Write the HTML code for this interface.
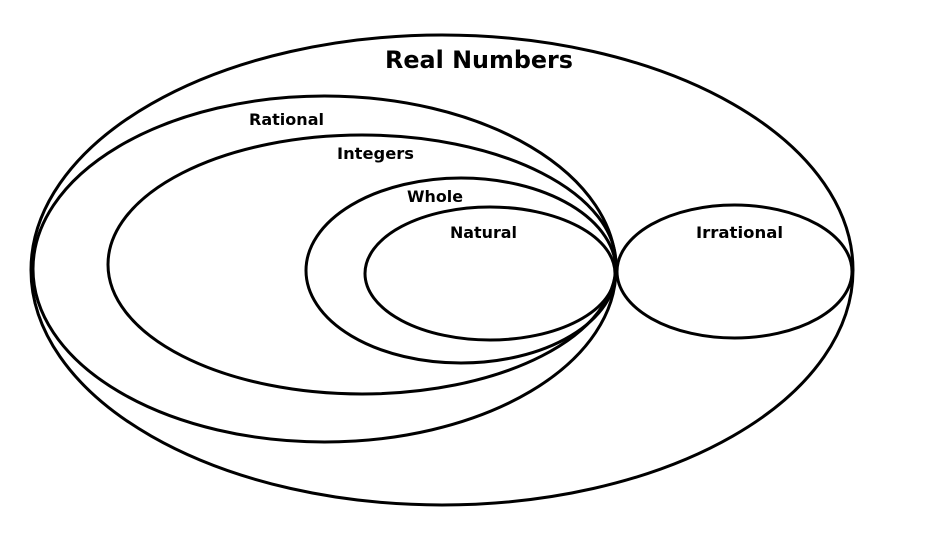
<!DOCTYPE html>
<html><head><meta charset="utf-8"><style>
html,body{margin:0;padding:0;background:#fff;}
svg{display:block;}
text{font-family:"DejaVu Sans","Liberation Sans",sans-serif;font-weight:bold;fill:#000;}
</style></head><body>
<svg width="933" height="560" viewBox="0 0 933 560" xmlns="http://www.w3.org/2000/svg">
<g fill="none" stroke="#000" stroke-width="3">
<ellipse cx="442" cy="270" rx="411" ry="235"/>
<ellipse cx="324.5" cy="269" rx="291.5" ry="173"/>
<ellipse cx="362" cy="264.5" rx="254" ry="129.5"/>
<ellipse cx="461" cy="270.5" rx="155" ry="92.5"/>
<ellipse cx="490" cy="273.5" rx="125" ry="66.5"/>
<ellipse cx="734.5" cy="271.5" rx="117.5" ry="66.5"/>
</g>
<text x="385" y="68" font-size="24" textLength="188" lengthAdjust="spacingAndGlyphs">Real Numbers</text>
<text x="249" y="125" font-size="16" textLength="75" lengthAdjust="spacingAndGlyphs">Rational</text>
<text x="337" y="159" font-size="16" textLength="77" lengthAdjust="spacingAndGlyphs">Integers</text>
<text x="407" y="202" font-size="16" textLength="56" lengthAdjust="spacingAndGlyphs">Whole</text>
<text x="450" y="238" font-size="16" textLength="67" lengthAdjust="spacingAndGlyphs">Natural</text>
<text x="696" y="238" font-size="16" textLength="87" lengthAdjust="spacingAndGlyphs">Irrational</text>
</svg>
</body></html>
